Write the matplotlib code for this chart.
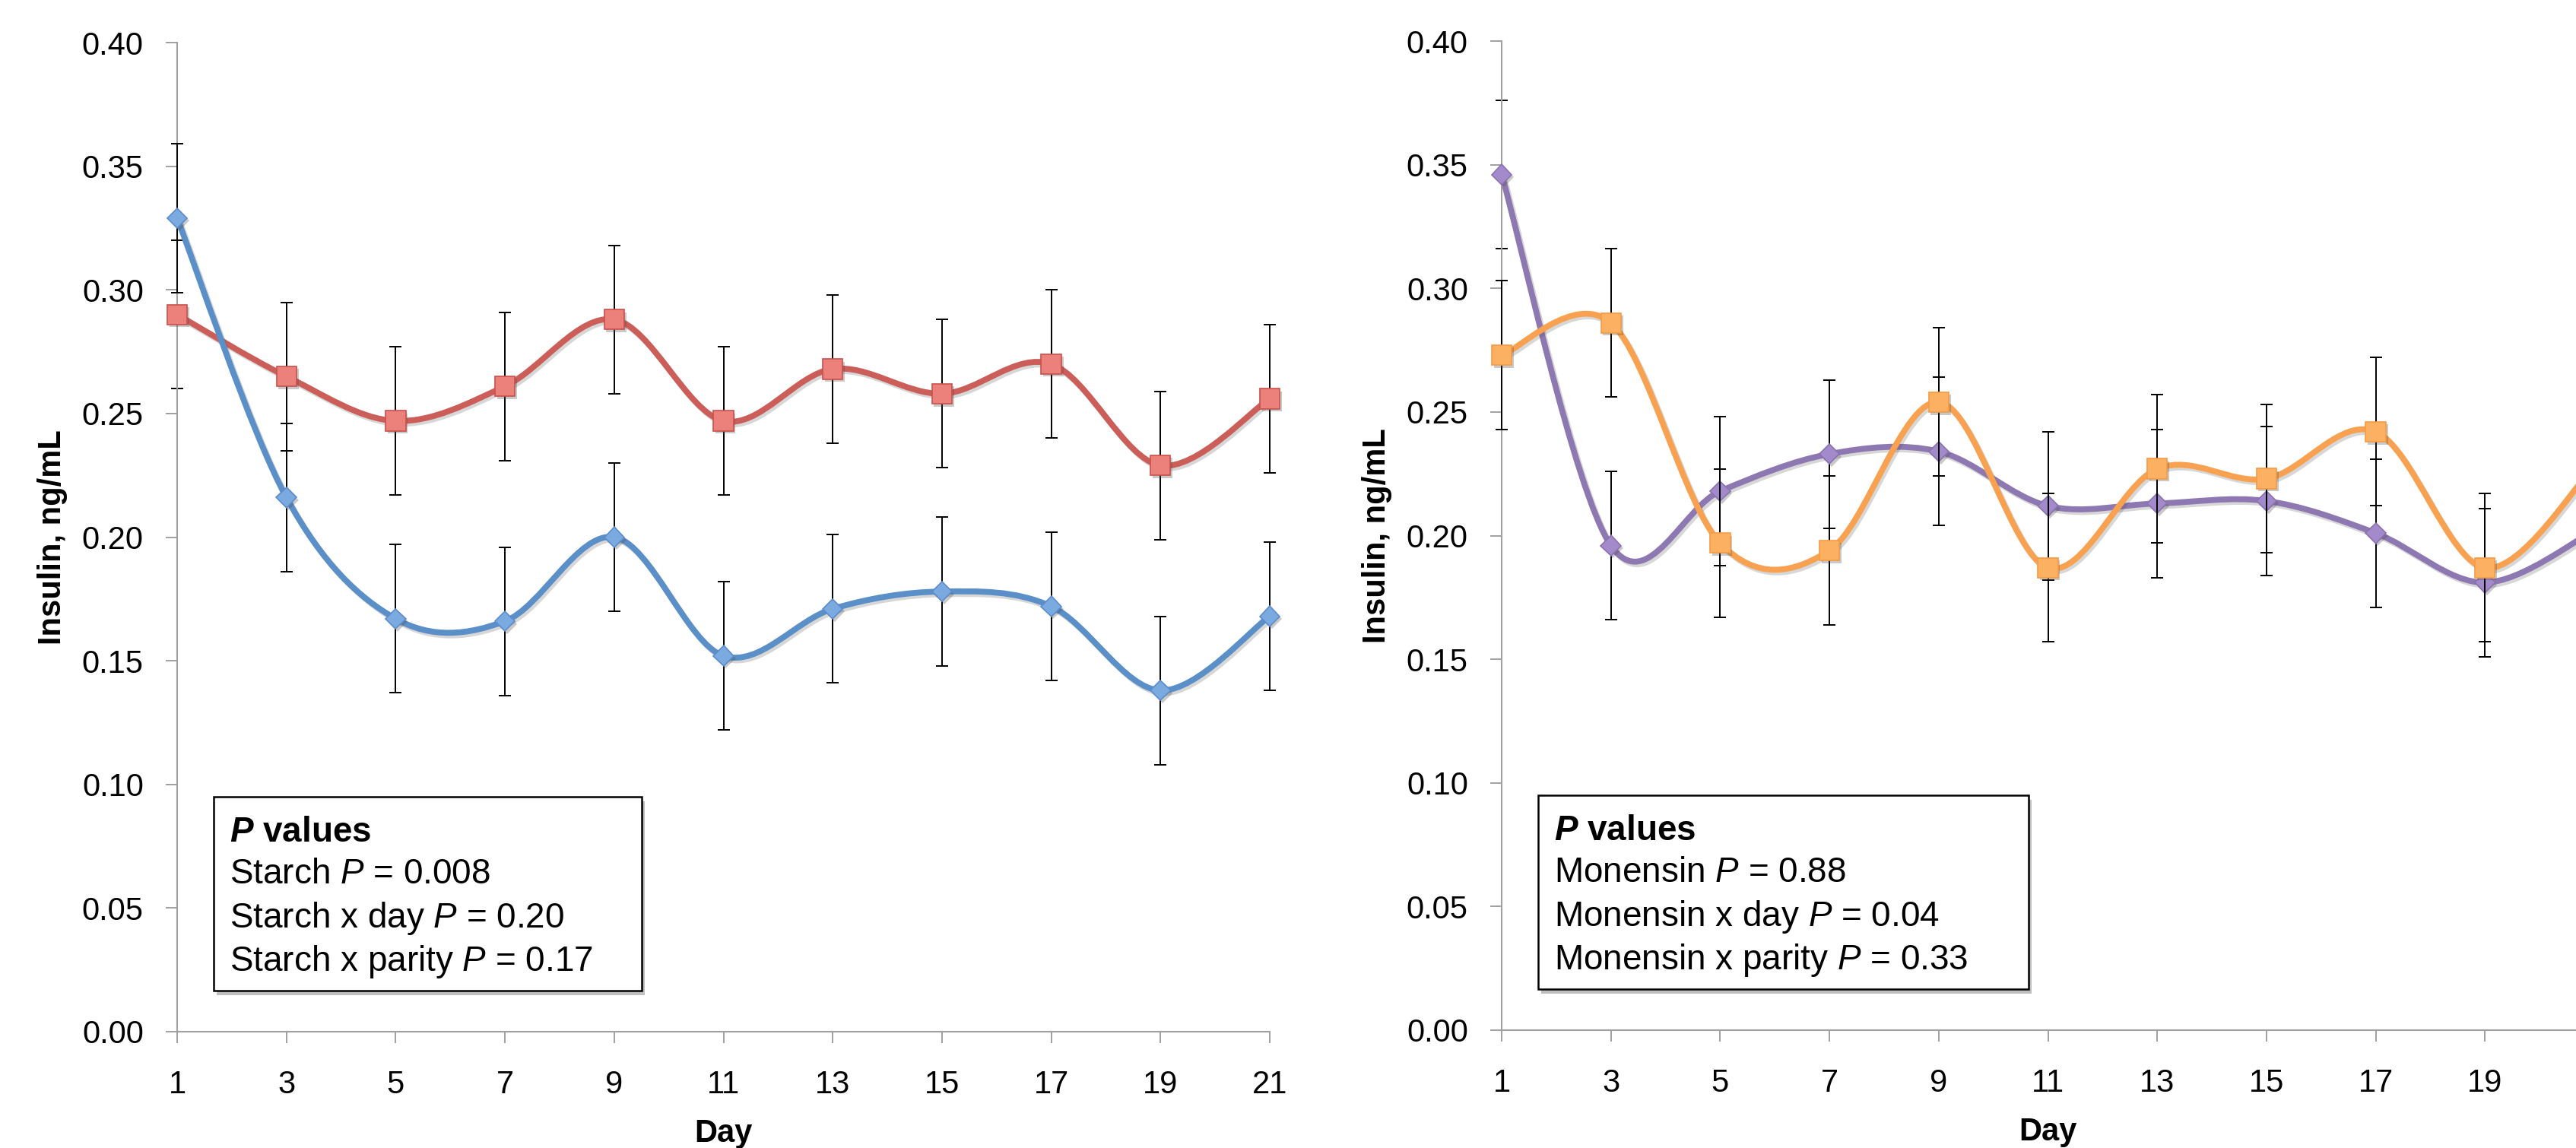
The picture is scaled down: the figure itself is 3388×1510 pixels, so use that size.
import matplotlib
matplotlib.use("Agg")
import matplotlib.pyplot as plt
import matplotlib.patheffects as pe
from matplotlib.path import Path
from matplotlib.patches import PathPatch, Rectangle

plt.rcParams['font.family'] = 'Liberation Sans'
plt.rcParams['mathtext.fontset'] = 'custom'
plt.rcParams['mathtext.rm'] = 'Liberation Sans'
plt.rcParams['mathtext.it'] = 'Liberation Sans:italic'
plt.rcParams['mathtext.bf'] = 'Liberation Sans:bold'
plt.rcParams['mathtext.bfit'] = 'Liberation Sans:italic:bold'

# ---- data (insulin, ng/mL) ----
days = [1, 3, 5, 7, 9, 11, 13, 15, 17, 19, 21]
day_ticks = [1, 3, 5, 7, 9, 11, 13, 15, 17, 19, 21]
y_ticks = [0.00, 0.05, 0.10, 0.15, 0.20, 0.25, 0.30, 0.35, 0.40]

# starch panel
starch_red = [0.290, 0.265, 0.247, 0.261, 0.288, 0.247, 0.268, 0.258, 0.270, 0.229, 0.256]
starch_blue = [0.329, 0.216, 0.167, 0.166, 0.200, 0.152, 0.171, 0.178, 0.172, 0.138, 0.168]
# monensin panel
monensin_purple = [0.346, 0.196, 0.218, 0.233, 0.234, 0.212, 0.213, 0.214, 0.201, 0.181, 0.202]
monensin_orange = [0.273, 0.286, 0.197, 0.194, 0.254, 0.187, 0.227, 0.223, 0.242, 0.187, 0.228]
# standard error, same for every point
se = [0.030, 0.030, 0.030, 0.030, 0.030, 0.030, 0.030, 0.030, 0.030, 0.030, 0.030]

starch_text = ["Starch $\\mathit{P}$ = 0.008",
               "Starch x day $\\mathit{P}$ = 0.20",
               "Starch x parity $\\mathit{P}$ = 0.17"]
monensin_text = ["Monensin $\\mathit{P}$ = 0.88",
                 "Monensin x day $\\mathit{P}$ = 0.04",
                 "Monensin x parity $\\mathit{P}$ = 0.33"]

GREY = '#A0A0A0'


def smooth_path(x, y):
    # Excel-like smoothed line: cubic bezier through every point
    pts = list(zip(x, y))
    n = len(pts)
    verts = [pts[0]]
    codes = [Path.MOVETO]
    for i in range(n - 1):
        p0 = pts[max(i - 1, 0)]
        p1 = pts[i]
        p2 = pts[i + 1]
        p3 = pts[min(i + 2, n - 1)]
        c1 = (p1[0] + (p2[0] - p0[0]) / 6, p1[1] + (p2[1] - p0[1]) / 6)
        c2 = (p2[0] - (p3[0] - p1[0]) / 6, p2[1] - (p3[1] - p1[1]) / 6)
        verts += [c1, c2, p2]
        codes += [Path.CURVE4] * 3
    return Path(verts, codes)


def draw_series(ax, y, line_col, face_col, edge_col, marker, ms, z):
    shadow = [pe.SimpleLineShadow(offset=(2, -2.5), shadow_color='0.3', alpha=0.22), pe.Normal()]
    patch = PathPatch(smooth_path(days, y), fill=False, edgecolor=line_col, lw=5.6,
                      capstyle='round', joinstyle='round', zorder=z, path_effects=shadow)
    ax.add_patch(patch)
    ax.errorbar(days, y, yerr=se, fmt='none', ecolor='black', elinewidth=1.4,
                capsize=6, capthick=1.4, zorder=z + 0.5, clip_on=False)
    ax.plot(days, y, linestyle='none', marker=marker, ms=ms, mfc=face_col, mec=edge_col,
            mew=1.2, zorder=z + 1, clip_on=False,
            path_effects=[pe.SimplePatchShadow(offset=(2, -2.5), shadow_rgbFace='0.3', alpha=0.3),
                          pe.Normal()])


def style_axes(ax, xlabels):
    ax.set_xlim(1, 21)
    ax.set_ylim(0, 0.40)
    ax.set_xticks(day_ticks)
    ax.set_xticklabels(xlabels)
    ax.set_yticks(y_ticks)
    ax.set_yticklabels(['%.2f' % v for v in y_ticks])
    for s in ['top', 'right']:
        ax.spines[s].set_visible(False)
    for s in ['left', 'bottom']:
        ax.spines[s].set_color(GREY)
        ax.spines[s].set_linewidth(1.5)
    ax.tick_params(axis='both', direction='out', length=10.8, width=1.4, color=GREY,
                   labelsize=30, labelcolor='black')
    ax.tick_params(axis='x', pad=25)
    ax.tick_params(axis='y', pad=21)
    ax.set_ylabel('Insulin, ng/mL', fontsize=30, fontweight='bold')
    ax.yaxis.set_label_coords(-0.100, 0.5)
    ax.set_xlabel('Day', fontsize=30, fontweight='bold')
    ax.xaxis.set_label_coords(0.5, -0.088)


def p_box(ax, lines, box_right):
    rect = Rectangle((0.0334, 0.0415), box_right - 0.0334, 0.196, transform=ax.transAxes,
                     facecolor='white', edgecolor='black', lw=1.8, zorder=6,
                     path_effects=[pe.SimplePatchShadow(offset=(3, -4), shadow_rgbFace='0.45',
                                                        alpha=0.45), pe.Normal()])
    ax.add_patch(rect)
    ax.text(0.048, 0.1922, '$\\mathbfit{P}$ values', transform=ax.transAxes, fontsize=33,
            fontweight='bold', va='baseline', ha='left', zorder=7)
    for txt, yb in zip(lines, [0.1499, 0.1055, 0.0615]):
        ax.text(0.048, yb, txt, transform=ax.transAxes, fontsize=33,
                va='baseline', ha='left', zorder=7)


fig = plt.figure(figsize=(33.88, 15.10), dpi=100)
ax1 = fig.add_axes([233 / 3388, 153 / 1510, 1437 / 3388, 1301 / 1510])
ax2 = fig.add_axes([1975 / 3388, 155 / 1510, 1437 / 3388, 1301 / 1510])

# left: starch
draw_series(ax1, starch_red, '#CC5E59', '#EC807B', '#C9514D', 's', 19, 2)
draw_series(ax1, starch_blue, '#5A8FC8', '#7AAAE0', '#5C8CCB', 'D', 13.5, 5)
style_axes(ax1, [str(d) for d in day_ticks])
p_box(ax1, starch_text, 0.4252)

# right: monensin (panel runs past the right edge, day 21 label falls outside)
draw_series(ax2, monensin_purple, '#8E78B2', '#A38BCB', '#8A72B0', 'D', 13.5, 2)
draw_series(ax2, monensin_orange, '#F8A251', '#FCB062', '#F59B45', 's', 19, 5)
style_axes(ax2, [str(d) for d in day_ticks[:-1]] + [''])
p_box(ax2, monensin_text, 0.4823)

fig.savefig('out.png', dpi=100, facecolor='white')
